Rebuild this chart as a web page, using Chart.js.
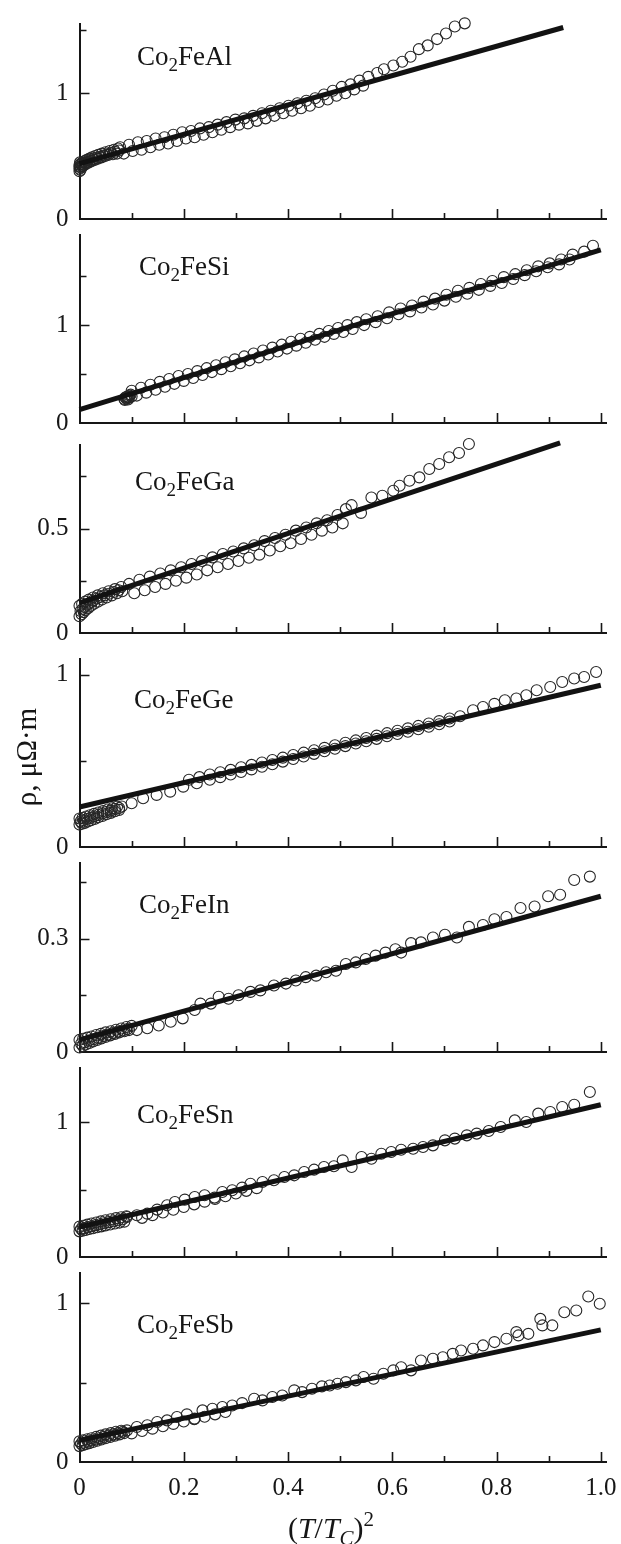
<!DOCTYPE html>
<html>
<head>
<meta charset="utf-8">
<script src="https://cdn.jsdelivr.net/npm/chart.js@4.4.1/dist/chart.umd.min.js"></script>
<style>
  html, body { margin: 0; padding: 0; background: #fff; }
  #page { position: relative; width: 621px; height: 1544px; overflow: hidden; }
  #page canvas { position: absolute; left: 0; }
</style>
</head>
<body>
<div id="page"></div>
<script>
// ---- data ----
const alloys = ['Al', 'Si', 'Ga', 'Ge', 'In', 'Sn', 'Sb'];
const yMaxValues = [1.55, 1.92, 0.90, 1.09, 0.50, 1.40, 1.19];
const yLabelTicks = [[0, 1], [0, 1], [0, 0.5], [0, 1], [0, 0.3], [0, 1], [0, 1]];
const yPlainTicks = [[1.5], [0.5, 1.5], [0.25, 0.75], [0.5], [0.15, 0.45], [0.5], [0.5]];
const xTicks = [0, 0.1, 0.2, 0.3, 0.4, 0.5, 0.6, 0.7, 0.8, 0.9, 1.0];
const xLabelTicks = [0, 0.2, 0.4, 0.6, 0.8, 1.0];
const xTickText = ['0', '0.2', '0.4', '0.6', '0.8', '1.0'];

const fitAl = [[0, 0.44], [0.928, 1.522]];
const fitSi = [[0, 0.136], [1.0, 1.769]];
const fitGa = [[0, 0.144], [0.922, 0.91]];
const fitGe = [[0, 0.232], [1.0, 0.938]];
const fitIn = [[0, 0.032], [1.0, 0.412]];
const fitSn = [[0, 0.222], [1.0, 1.128]];
const fitSb = [[0, 0.136], [1.0, 0.832]];

const pointsAl = [
  [0, 0.38], [0, 0.40], [0, 0.415], [0, 0.43], [0.001, 0.45], [0.002, 0.39],
  [0.003, 0.41], [0.003, 0.44], [0.006, 0.42], [0.006, 0.45], [0.009, 0.43], [0.010, 0.46],
  [0.013, 0.44], [0.014, 0.47], [0.018, 0.45], [0.019, 0.48], [0.023, 0.46], [0.024, 0.49], [0.029, 0.47], [0.030, 0.50],
  [0.035, 0.48], [0.036, 0.51], [0.042, 0.49], [0.043, 0.52], [0.049, 0.50], [0.050, 0.53], [0.056, 0.51], [0.058, 0.54],
  [0.064, 0.515], [0.066, 0.55], [0.072, 0.52], [0.074, 0.56],
  [0.001, 0.415], [0.004, 0.425], [0.007, 0.435], [0.011, 0.445], [0.015, 0.455], [0.020, 0.465], [0.026, 0.475],
  [0.032, 0.485], [0.039, 0.495], [0.046, 0.505], [0.053, 0.515], [0.060, 0.525], [0.068, 0.535], [0.076, 0.545],
  [0.078, 0.57], [0.095, 0.59], [0.112, 0.61], [0.129, 0.62], [0.146, 0.64], [0.163, 0.65], [0.180, 0.67], [0.197, 0.69],
  [0.214, 0.70], [0.231, 0.72], [0.248, 0.73], [0.265, 0.75], [0.282, 0.77], [0.299, 0.79], [0.316, 0.80], [0.333, 0.82],
  [0.350, 0.84], [0.367, 0.86], [0.384, 0.88], [0.401, 0.90], [0.418, 0.92], [0.435, 0.94], [0.452, 0.96], [0.469, 0.99],
  [0.486, 1.02], [0.503, 1.05], [0.520, 1.07], [0.537, 1.10], [0.554, 1.13], [0.571, 1.16], [0.584, 1.19], [0.602, 1.22],
  [0.619, 1.25], [0.635, 1.29], [0.651, 1.35], [0.668, 1.38], [0.686, 1.43], [0.703, 1.475], [0.720, 1.53], [0.739, 1.555],
  [0.085, 0.52], [0.102, 0.54], [0.119, 0.55], [0.136, 0.57], [0.153, 0.59], [0.170, 0.60], [0.187, 0.62], [0.204, 0.64],
  [0.221, 0.65], [0.238, 0.67], [0.255, 0.69], [0.272, 0.71], [0.289, 0.73], [0.306, 0.75], [0.323, 0.76], [0.340, 0.78],
  [0.357, 0.80], [0.374, 0.82], [0.391, 0.84], [0.408, 0.86], [0.425, 0.88], [0.442, 0.90], [0.459, 0.93], [0.476, 0.95],
  [0.493, 0.98], [0.510, 1.00], [0.527, 1.03], [0.544, 1.06]
];

const pointsSi = [
  [0.086, 0.245], [0.087, 0.235], [0.088, 0.26], [0.090, 0.25], [0.090, 0.265], [0.092, 0.27], [0.093, 0.24],
  [0.094, 0.255], [0.095, 0.265], [0.096, 0.28], [0.098, 0.29], [0.100, 0.27],
  [0.100, 0.33], [0.118, 0.36], [0.136, 0.39], [0.154, 0.42], [0.172, 0.45], [0.190, 0.48], [0.208, 0.50], [0.226, 0.53],
  [0.244, 0.56], [0.262, 0.59], [0.280, 0.62], [0.298, 0.65], [0.316, 0.68], [0.334, 0.71], [0.352, 0.74], [0.370, 0.77],
  [0.388, 0.80], [0.406, 0.83], [0.424, 0.86], [0.442, 0.88], [0.460, 0.91], [0.478, 0.94], [0.496, 0.97], [0.514, 1.00],
  [0.532, 1.03], [0.550, 1.06], [0.572, 1.09], [0.594, 1.13], [0.616, 1.17], [0.638, 1.20], [0.660, 1.24], [0.682, 1.27],
  [0.704, 1.31], [0.726, 1.35], [0.748, 1.38], [0.770, 1.42], [0.792, 1.45], [0.814, 1.49], [0.836, 1.52], [0.858, 1.56],
  [0.880, 1.60], [0.902, 1.63], [0.924, 1.67], [0.946, 1.72], [0.968, 1.75], [0.985, 1.81],
  [0.110, 0.28], [0.128, 0.31], [0.146, 0.34], [0.164, 0.37], [0.182, 0.40], [0.200, 0.43], [0.218, 0.46], [0.236, 0.49],
  [0.254, 0.52], [0.272, 0.55], [0.290, 0.58], [0.308, 0.61], [0.326, 0.64], [0.344, 0.67], [0.362, 0.70], [0.380, 0.73],
  [0.398, 0.76], [0.416, 0.79], [0.434, 0.82], [0.452, 0.85], [0.470, 0.88], [0.488, 0.91], [0.506, 0.93], [0.524, 0.96],
  [0.546, 1.00], [0.568, 1.03], [0.590, 1.07], [0.612, 1.11], [0.634, 1.14], [0.656, 1.18], [0.678, 1.21], [0.700, 1.25],
  [0.722, 1.29], [0.744, 1.32], [0.766, 1.36], [0.788, 1.40], [0.810, 1.43], [0.832, 1.47], [0.854, 1.51], [0.876, 1.55],
  [0.898, 1.59], [0.920, 1.62], [0.940, 1.67]
];

const pointsGa = [
  [0, 0.08], [0.004, 0.09], [0.008, 0.10], [0.012, 0.11], [0.017, 0.12], [0.022, 0.13], [0.028, 0.14], [0.035, 0.15],
  [0.043, 0.16], [0.052, 0.17], [0.062, 0.18], [0.072, 0.19], [0.082, 0.20],
  [0, 0.13], [0.005, 0.14], [0.011, 0.15], [0.018, 0.16], [0.026, 0.17], [0.035, 0.18], [0.045, 0.19], [0.056, 0.20],
  [0.068, 0.21], [0.080, 0.22],
  [0.002, 0.105], [0.006, 0.115], [0.010, 0.125], [0.015, 0.135], [0.020, 0.145], [0.026, 0.155], [0.033, 0.165],
  [0.040, 0.172], [0.048, 0.18], [0.057, 0.188], [0.066, 0.196], [0.075, 0.205],
  [0.095, 0.235], [0.115, 0.255], [0.135, 0.27], [0.155, 0.285], [0.175, 0.30], [0.195, 0.315], [0.215, 0.33], [0.235, 0.345],
  [0.255, 0.362], [0.275, 0.378], [0.295, 0.39], [0.315, 0.405], [0.335, 0.42], [0.355, 0.44], [0.375, 0.455], [0.395, 0.47],
  [0.415, 0.49], [0.435, 0.505], [0.455, 0.525], [0.475, 0.54], [0.495, 0.565], [0.511, 0.593], [0.522, 0.612],
  [0.560, 0.649], [0.581, 0.657], [0.602, 0.681], [0.614, 0.705], [0.633, 0.729], [0.652, 0.745], [0.671, 0.785],
  [0.690, 0.809], [0.709, 0.841], [0.728, 0.862], [0.747, 0.905],
  [0.105, 0.19], [0.125, 0.205], [0.145, 0.22], [0.165, 0.235], [0.185, 0.25], [0.205, 0.265], [0.225, 0.28], [0.245, 0.30],
  [0.265, 0.315], [0.285, 0.33], [0.305, 0.345], [0.325, 0.36], [0.345, 0.375], [0.365, 0.395], [0.385, 0.415], [0.405, 0.43],
  [0.425, 0.45], [0.445, 0.47], [0.465, 0.49], [0.485, 0.505], [0.505, 0.525], [0.540, 0.575]
];

const pointsGe = [
  [0, 0.13], [0.005, 0.135], [0.010, 0.14], [0.016, 0.148], [0.022, 0.155], [0.029, 0.163], [0.036, 0.172], [0.044, 0.18],
  [0.052, 0.19], [0.060, 0.198], [0.068, 0.207], [0.076, 0.215],
  [0, 0.165], [0.006, 0.17], [0.013, 0.177], [0.020, 0.184], [0.028, 0.192], [0.036, 0.20], [0.045, 0.208], [0.054, 0.217],
  [0.063, 0.225], [0.072, 0.233],
  [0.002, 0.148], [0.008, 0.155], [0.014, 0.162], [0.021, 0.17], [0.028, 0.177], [0.036, 0.186], [0.044, 0.194],
  [0.052, 0.203], [0.060, 0.211], [0.068, 0.22], [0.076, 0.226],
  [0.081, 0.235], [0.100, 0.254], [0.122, 0.283], [0.148, 0.302], [0.174, 0.321], [0.199, 0.35], [0.225, 0.37],
  [0.25, 0.39], [0.27, 0.405], [0.29, 0.42], [0.31, 0.435], [0.33, 0.45], [0.35, 0.465], [0.37, 0.48], [0.39, 0.495],
  [0.41, 0.51], [0.43, 0.525], [0.45, 0.54], [0.47, 0.555], [0.49, 0.57], [0.51, 0.585], [0.53, 0.60], [0.55, 0.613],
  [0.57, 0.627], [0.59, 0.642], [0.61, 0.655], [0.63, 0.668], [0.65, 0.683], [0.67, 0.697], [0.69, 0.712], [0.71, 0.728],
  [0.21, 0.39], [0.23, 0.405], [0.25, 0.42], [0.27, 0.433], [0.29, 0.447], [0.31, 0.462], [0.33, 0.476], [0.35, 0.49],
  [0.37, 0.504], [0.39, 0.518], [0.41, 0.533], [0.43, 0.547], [0.45, 0.561], [0.47, 0.575], [0.49, 0.59], [0.51, 0.604],
  [0.53, 0.618], [0.55, 0.632], [0.57, 0.646], [0.59, 0.66], [0.61, 0.674], [0.63, 0.688], [0.65, 0.702], [0.67, 0.716],
  [0.69, 0.73], [0.71, 0.745], [0.73, 0.758], [0.755, 0.793], [0.774, 0.812], [0.796, 0.83], [0.816, 0.851], [0.838, 0.861],
  [0.857, 0.88], [0.877, 0.909], [0.903, 0.928], [0.926, 0.957], [0.949, 0.977], [0.968, 0.986], [0.991, 1.015]
];

const pointsIn = [
  [0, 0.012], [0.006, 0.016], [0.012, 0.020], [0.019, 0.024], [0.026, 0.028], [0.034, 0.032], [0.042, 0.036], [0.050, 0.040],
  [0.059, 0.044], [0.068, 0.048], [0.077, 0.052], [0.086, 0.055], [0.095, 0.058],
  [0, 0.032], [0.007, 0.035], [0.015, 0.038], [0.023, 0.041], [0.032, 0.045], [0.041, 0.048], [0.050, 0.052], [0.060, 0.055],
  [0.070, 0.059], [0.080, 0.062], [0.090, 0.066], [0.100, 0.069],
  [0.003, 0.022], [0.010, 0.026], [0.018, 0.030], [0.027, 0.034], [0.036, 0.038], [0.045, 0.042], [0.055, 0.046],
  [0.064, 0.050], [0.074, 0.054], [0.083, 0.057], [0.092, 0.061],
  [0.110, 0.058], [0.130, 0.063], [0.152, 0.070], [0.175, 0.080], [0.198, 0.089], [0.221, 0.111], [0.232, 0.128], [0.252, 0.128],
  [0.267, 0.146], [0.286, 0.141], [0.305, 0.150], [0.328, 0.159], [0.347, 0.163], [0.373, 0.176], [0.396, 0.181], [0.415, 0.189],
  [0.434, 0.198], [0.454, 0.202], [0.473, 0.211], [0.492, 0.215], [0.511, 0.233], [0.530, 0.237], [0.549, 0.246], [0.568, 0.255],
  [0.587, 0.263], [0.606, 0.272], [0.617, 0.263], [0.636, 0.288], [0.655, 0.290], [0.678, 0.303], [0.701, 0.310], [0.724, 0.303],
  [0.747, 0.331], [0.774, 0.336], [0.796, 0.351], [0.819, 0.357], [0.846, 0.381], [0.873, 0.385], [0.899, 0.412], [0.922, 0.416],
  [0.949, 0.455], [0.979, 0.464]
];

const pointsSn = [
  [0, 0.19], [0.006, 0.195], [0.012, 0.20], [0.019, 0.207], [0.026, 0.213], [0.034, 0.22], [0.042, 0.227], [0.050, 0.234],
  [0.059, 0.241], [0.068, 0.248], [0.077, 0.255], [0.086, 0.262],
  [0, 0.225], [0.007, 0.232], [0.015, 0.24], [0.023, 0.248], [0.032, 0.256], [0.041, 0.264], [0.050, 0.272], [0.060, 0.28],
  [0.070, 0.288], [0.080, 0.295], [0.090, 0.302],
  [0.003, 0.207], [0.009, 0.214], [0.016, 0.222], [0.023, 0.228], [0.031, 0.236], [0.039, 0.243], [0.047, 0.25],
  [0.056, 0.258], [0.065, 0.265], [0.074, 0.272], [0.083, 0.279],
  [0.091, 0.296], [0.110, 0.309], [0.130, 0.321], [0.149, 0.351], [0.168, 0.383], [0.183, 0.407], [0.202, 0.425], [0.221, 0.444],
  [0.240, 0.457], [0.259, 0.44], [0.274, 0.481], [0.293, 0.494], [0.312, 0.514], [0.328, 0.543], [0.351, 0.556], [0.373, 0.568],
  [0.393, 0.593], [0.412, 0.605], [0.431, 0.63], [0.450, 0.647], [0.469, 0.667], [0.488, 0.672], [0.505, 0.716], [0.522, 0.667],
  [0.541, 0.741], [0.560, 0.728], [0.579, 0.765], [0.598, 0.778], [0.617, 0.795], [0.640, 0.802], [0.659, 0.815], [0.678, 0.827],
  [0.701, 0.864], [0.720, 0.877], [0.743, 0.901], [0.762, 0.914], [0.785, 0.933], [0.808, 0.963], [0.835, 1.012], [0.857, 1.00],
  [0.880, 1.062], [0.903, 1.074], [0.926, 1.111], [0.949, 1.128], [0.979, 1.222],
  [0.12, 0.29], [0.14, 0.31], [0.16, 0.33], [0.18, 0.35], [0.20, 0.37], [0.22, 0.39], [0.24, 0.41], [0.26, 0.43],
  [0.28, 0.45], [0.30, 0.47], [0.32, 0.49], [0.34, 0.51]
];

const pointsSb = [
  [0, 0.10], [0.006, 0.106], [0.012, 0.112], [0.019, 0.119], [0.026, 0.126], [0.034, 0.134], [0.042, 0.142], [0.050, 0.15],
  [0.059, 0.158], [0.068, 0.166], [0.077, 0.174], [0.086, 0.182],
  [0, 0.13], [0.007, 0.136], [0.015, 0.143], [0.023, 0.15], [0.032, 0.158], [0.041, 0.166], [0.050, 0.174], [0.060, 0.182],
  [0.070, 0.19], [0.080, 0.197],
  [0.003, 0.115], [0.009, 0.121], [0.016, 0.128], [0.023, 0.135], [0.031, 0.142], [0.039, 0.15], [0.047, 0.158],
  [0.056, 0.166], [0.065, 0.174], [0.074, 0.182], [0.083, 0.19],
  [0.091, 0.199], [0.110, 0.22], [0.130, 0.231], [0.149, 0.252], [0.168, 0.262], [0.187, 0.283], [0.206, 0.30], [0.221, 0.273],
  [0.236, 0.325], [0.255, 0.335], [0.274, 0.346], [0.293, 0.356], [0.312, 0.371], [0.335, 0.398], [0.351, 0.388], [0.370, 0.409],
  [0.389, 0.419], [0.412, 0.451], [0.427, 0.44], [0.446, 0.461], [0.465, 0.476], [0.480, 0.482], [0.495, 0.493], [0.511, 0.503],
  [0.530, 0.514], [0.545, 0.535], [0.564, 0.524], [0.583, 0.556], [0.602, 0.577], [0.617, 0.597], [0.636, 0.577], [0.655, 0.639],
  [0.678, 0.65], [0.697, 0.66], [0.716, 0.681], [0.732, 0.702], [0.755, 0.713], [0.774, 0.734], [0.796, 0.755], [0.819, 0.776],
  [0.838, 0.818], [0.842, 0.797], [0.861, 0.807], [0.884, 0.901], [0.888, 0.86], [0.907, 0.86], [0.930, 0.943], [0.953, 0.954],
  [0.976, 1.042], [0.998, 0.996],
  [0.10, 0.18], [0.12, 0.195], [0.14, 0.21], [0.16, 0.225], [0.18, 0.24], [0.20, 0.255], [0.22, 0.27], [0.24, 0.285],
  [0.26, 0.30], [0.28, 0.315]
];

const fits = [fitAl, fitSi, fitGa, fitGe, fitIn, fitSn, fitSb];
const points = [pointsAl, pointsSi, pointsGa, pointsGe, pointsIn, pointsSn, pointsSb];

// ---- layout (pixel positions of each panel) ----
const axisTop = [24, 235, 445, 659, 863, 1068, 1273];
const axisBottom = [219, 423, 633, 847, 1052, 1257, 1462];
const labelX = [137, 139, 135, 134, 139, 137, 137];
const labelBase = [65, 275, 490, 708, 913, 1123, 1333];

const SERIF = "'Liberation Serif', 'DejaVu Serif', serif";
const INK = '#161616';
const PAGE_W = 621;
const AXIS_LEFT = 79.5;
const AXIS_RIGHT = 606;

function drawSubText(ctx, parts, x, y) {
    // parts: [text, style, size, dy]
    let cx = x;
    parts.forEach(([text, style, size, dy]) => {
        ctx.font = `${style} ${size}px ${SERIF}`;
        ctx.fillText(text, cx, y + dy);
        cx += ctx.measureText(text).width;
    });
    return cx - x;
}

function partsWidth(ctx, parts) {
    let w = 0;
    parts.forEach(([text, style, size]) => {
        ctx.font = `${style} ${size}px ${SERIF}`;
        w += ctx.measureText(text).width;
    });
    return w;
}

const panelDecor = {
    id: 'panelDecor',
    afterDraw(chart, args, opts) {
        const { ctx, chartArea } = chart;
        const xs = chart.scales.x;
        const ys = chart.scales.y;
        const i = opts.index;
        ctx.save();
        ctx.strokeStyle = INK;
        ctx.lineWidth = 1.6;
        ctx.beginPath();
        yLabelTicks[i].filter((v) => v !== 0).forEach((v) => {
            const py = Math.round(ys.getPixelForValue(v)) + 0.5;
            ctx.moveTo(chartArea.left, py);
            ctx.lineTo(chartArea.left + 10, py);
        });
        yPlainTicks[i].forEach((v) => {
            const py = Math.round(ys.getPixelForValue(v)) + 0.5;
            ctx.moveTo(chartArea.left, py);
            ctx.lineTo(chartArea.left + 7, py);
        });
        xTicks.filter((v) => v !== 0).forEach((v) => {
            const px = Math.round(xs.getPixelForValue(v)) + 0.5;
            const len = xLabelTicks.some((t) => Math.abs(t - v) < 1e-9) ? 10 : 6;
            ctx.moveTo(px, chartArea.bottom);
            ctx.lineTo(px, chartArea.bottom - len);
        });
        ctx.stroke();

        // alloy name
        ctx.fillStyle = INK;
        ctx.textBaseline = 'alphabetic';
        ctx.textAlign = 'left';
        const top = opts.canvasTop;
        drawSubText(ctx, [['Co', 'normal', 27, 0], ['2', 'normal', 19, 6], ['Fe' + alloys[i], 'normal', 27, 0]],
            labelX[i], labelBase[i] - top);

        if (i === 3) {
            ctx.save();
            ctx.translate(28, 757 - top);
            ctx.rotate(-Math.PI / 2);
            ctx.font = `normal 29px ${SERIF}`;
            ctx.textAlign = 'center';
            ctx.textBaseline = 'middle';
            ctx.fillText('\u03C1, \u03BC\u03A9\u00B7m', 0, 0);
            ctx.restore();
        }
        if (i === 6) {
            const parts = [['(', 'normal', 30, 0], ['T', 'italic', 30, 0], ['/', 'normal', 30, 0], ['T', 'italic', 30, 0],
                ['C', 'italic', 21, 7], [')', 'normal', 30, 0], ['2', 'normal', 21, -12]];
            const w = partsWidth(ctx, parts);
            drawSubText(ctx, parts, 331 - w / 2, 1538 - top);
        }
        ctx.restore();
    }
};

function makePanel(i) {
    const page = document.getElementById('page');
    const canvas = document.createElement('canvas');
    const cTop = axisTop[i] - 14;
    const cHeight = i === 6 ? 1544 - cTop : (axisBottom[i] - cTop) + 18;
    canvas.width = PAGE_W;
    canvas.height = cHeight;
    canvas.style.top = cTop + 'px';
    canvas.style.width = PAGE_W + 'px';
    canvas.style.height = cHeight + 'px';
    page.appendChild(canvas);

    const xHeight = cHeight - (axisBottom[i] - cTop);
    const lastPanel = i === 6;

    new Chart(canvas, {
        type: 'scatter',
        data: {
            datasets: [
                {
                    data: fits[i].map(([x, y]) => ({ x, y })),
                    showLine: true,
                    borderColor: '#121212',
                    borderWidth: 5,
                    pointRadius: 0,
                    clip: false
                },
                {
                    data: points[i].map(([x, y]) => ({ x, y })),
                    showLine: false,
                    pointRadius: 5.5,
                    pointBorderWidth: 1.1,
                    borderColor: '#262626',
                    backgroundColor: 'rgba(0,0,0,0)',
                    clip: { left: 8, top: 8, right: 0, bottom: 8 }
                }
            ]
        },
        options: {
            responsive: false,
            animation: false,
            devicePixelRatio: 1,
            layout: { padding: { left: 0, right: PAGE_W - AXIS_RIGHT, top: axisTop[i] - cTop, bottom: 0 } },
            plugins: {
                legend: { display: false },
                tooltip: { enabled: false },
                panelDecor: { index: i, canvasTop: cTop }
            },
            scales: {
                x: {
                    type: 'linear',
                    min: 0,
                    max: 1.01,
                    grid: { display: false, drawTicks: false },
                    border: { display: true, color: INK, width: 2 },
                    afterBuildTicks: (scale) => { scale.ticks = xLabelTicks.map((v) => ({ value: v })); },
                    afterFit: (scale) => {
                        scale.height = xHeight;
                        scale.paddingLeft = 0;
                        scale.paddingRight = 0;
                    },
                    ticks: {
                        display: lastPanel,
                        padding: 11,
                        color: INK,
                        font: { family: SERIF, size: 25 },
                        maxRotation: 0,
                        autoSkip: false,
                        callback: (v) => xTickText[xLabelTicks.indexOf(v)]
                    }
                },
                y: {
                    type: 'linear',
                    min: 0,
                    max: yMaxValues[i],
                    grid: { display: false, drawTicks: false },
                    border: { display: true, color: INK, width: 2 },
                    afterBuildTicks: (scale) => { scale.ticks = yLabelTicks[i].map((v) => ({ value: v })); },
                    afterFit: (scale) => {
                        scale.width = AXIS_LEFT;
                        scale.paddingTop = 0;
                        scale.paddingBottom = 0;
                    },
                    ticks: {
                        padding: 11,
                        color: INK,
                        font: { family: SERIF, size: 25 },
                        autoSkip: false,
                        callback: (v) => String(v)
                    }
                }
            }
        },
        plugins: [panelDecor]
    });
}

alloys.forEach((_, i) => makePanel(i));
</script>
</body>
</html>
